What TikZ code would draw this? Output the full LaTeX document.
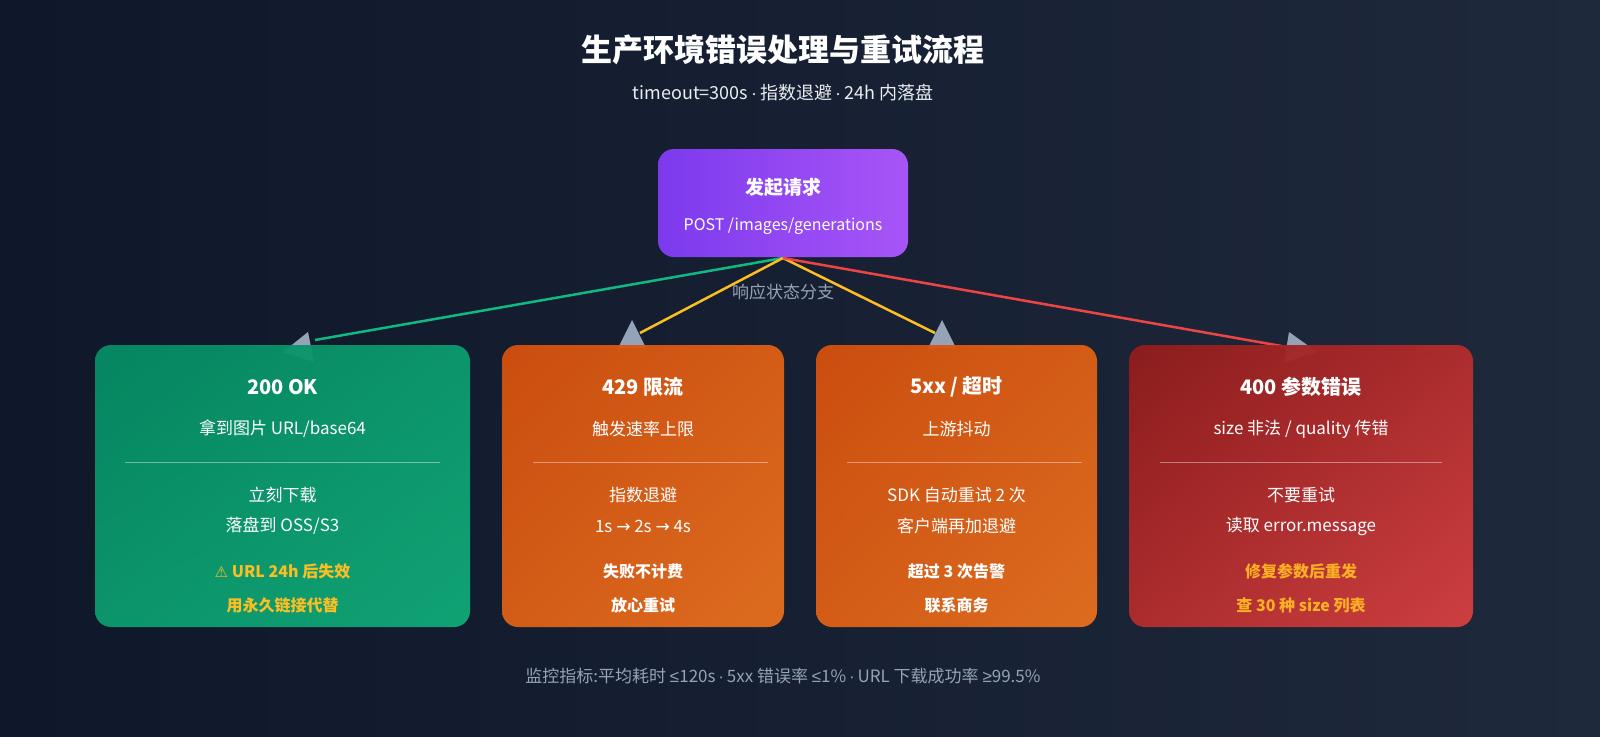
\documentclass[tikz,border=0pt]{standalone}
\usepackage{fontspec}
\usetikzlibrary{shadings}
\setmainfont{Noto Sans CJK SC}
\newfontfamily\symf{DejaVu Sans}
\newfontfamily\lsf{Liberation Sans}
\newcommand{\md}{{\lsf\,·\,}}
\definecolor{bgA}{HTML}{0F172A}\definecolor{bgB}{HTML}{1E293B}
\definecolor{ln}{HTML}{94A3B8}
\definecolor{triC}{HTML}{94A3B8}
\definecolor{pA}{HTML}{7C3AED}\definecolor{pB}{HTML}{A855F7}
\definecolor{cG}{HTML}{10B981}\definecolor{cY}{HTML}{FBBF24}\definecolor{cR}{HTML}{EF4444}
\definecolor{gA}{HTML}{058C64}\definecolor{gB}{HTML}{10AA78}\definecolor{gM}{HTML}{0C9B6E}
\definecolor{oA}{HTML}{D4500E}\definecolor{oB}{HTML}{E8701E}\definecolor{oM}{HTML}{DE6016}
\definecolor{rA}{HTML}{911C1C}\definecolor{rB}{HTML}{D74141}\definecolor{rM}{HTML}{B42D2D}
\definecolor{nY}{HTML}{FBBF24}\definecolor{nO}{HTML}{FBAF24}
\begin{document}
\begin{tikzpicture}[x=1pt,y=-1pt,
  box/.style={rounded corners=16pt,draw=none},
  ttl/.style={text=white,font=\bfseries\fontsize{20}{23}\selectfont,anchor=center},
  sub/.style={text=white,font=\fontsize{17}{20}\selectfont,anchor=center},
  note/.style={text=nY,font=\bfseries\fontsize{16}{19}\selectfont,anchor=center},
  wnote/.style={text=white,font=\bfseries\fontsize{16}{19}\selectfont,anchor=center},
  tri/.style={fill=triC,draw=none},
  div/.style={draw=white,opacity=0.4,line width=1pt}]
\useasboundingbox (0,0) rectangle (1600,736);
\shade[left color=bgA,right color=bgB] (0,0) rectangle (1600,736);
% title
\node[text=white,font=\bfseries\fontsize{31}{35}\selectfont] (title) at (783,50) {生产环境错误处理与重试流程};
\node[text=white!80!ln,font=\fontsize{18}{22}\selectfont] (subt) at (783,93) {timeout=300s\md 指数退避\md 24h 内落盘};
% top box
\shade[box,left color=pA,right color=pB] (658,149) rectangle (908,257);
\coordinate (src) at (783,258);
\node[ttl,font=\bfseries\fontsize{19}{22}\selectfont] (req) at (783,187) {发起请求};
\node[sub,font=\fontsize{16}{19}\selectfont] (reqs) at (783,226) {POST /images/generations};
% connectors
\coordinate (e1) at (315,340);\coordinate (e2) at (640,333);
\coordinate (e3) at (935,333);\coordinate (e4) at (1287,347);
\draw[line width=2.5pt,cG] (src) -- (e1);
\draw[line width=2.5pt,cY] (src) -- (e2);
\draw[line width=2.5pt,cY] (src) -- (e3);
\draw[line width=2.5pt,cR] (src) -- (e4);
\node[text=ln,font=\fontsize{17}{20}\selectfont] (lab) at (783,292) {响应状态分支};
\fill[tri] (308,332) -- (283,352) -- (314,362) -- cycle;
\fill[tri] (632,320) -- (618,348) -- (646,348) -- cycle;
\fill[tri] (942,320) -- (928,348) -- (956,348) -- cycle;
\fill[tri] (1289,332) -- (1317,352) -- (1284,363) -- cycle;
% boxes
\shade[box,opacity=0.95,upper left=gA,lower right=gB,upper right=gM,lower left=gM] (95,345) rectangle (470,627);
\shade[box,opacity=0.95,upper left=oA,lower right=oB,upper right=oM,lower left=oM] (502,345) rectangle (784,627);
\shade[box,opacity=0.95,upper left=oA,lower right=oB,upper right=oM,lower left=oM] (816,345) rectangle (1097,627);
\shade[box,opacity=0.95,upper left=rA,lower right=rB,upper right=rM,lower left=rM] (1129,345) rectangle (1473,627);
% box 1
\node[ttl] (b1t) at (282.5,387) {200 OK};
\node[sub] (b1s) at (282.5,429) {拿到图片 URL/base64};
\draw[div] (125,462) -- (440,462);
\node[sub] (b1a) at (282.5,495) {立刻下载};
\node[sub] (b1b) at (282.5,526) {落盘到 OSS/S3};
\node[note] (b1c) at (282.5,571) {{\symf\fontsize{15}{17}\selectfont ⚠} URL 24h 后失效};
\node[note] (b1d) at (282.5,605) {用永久链接代替};
% box 2
\node[ttl] (b2t) at (643,387) {429 限流};
\node[sub] (b2s) at (643,429) {触发速率上限};
\draw[div] (533,462) -- (768,462);
\node[sub] (b2a) at (643,495) {指数退避};
\node[sub] (b2b) at (643,526) {1s {\symf →} 2s {\symf →} 4s};
\node[wnote] (b2c) at (643,571) {失败不计费};
\node[wnote] (b2d) at (643,605) {放心重试};
% box 3
\node[ttl] (b3t) at (956.5,387) {5xx / 超时};
\node[sub] (b3s) at (956.5,429) {上游抖动};
\draw[div] (847,462) -- (1082,462);
\node[sub] (b3a) at (956.5,495) {SDK 自动重试 2 次};
\node[sub] (b3b) at (956.5,526) {客户端再加退避};
\node[wnote] (b3c) at (956.5,571) {超过 3 次告警};
\node[wnote] (b3d) at (956.5,605) {联系商务};
% box 4
\node[ttl] (b4t) at (1301,387) {400 参数错误};
\node[sub] (b4s) at (1301,429) {size 非法 / quality 传错};
\draw[div] (1160,462) -- (1442,462);
\node[sub] (b4a) at (1301,495) {不要重试};
\node[sub] (b4b) at (1301,526) {读取 error.message};
\node[note,text=nO] (b4c) at (1301,571) {修复参数后重发};
\node[note,text=nO] (b4d) at (1301,605) {查 30 种 size 列表};
% footer
\node[text=ln,font=\fontsize{17}{20}\selectfont] (foot) at (783,676) {监控指标:平均耗时 {\lsf ≤}120s\md 5xx 错误率 {\lsf ≤}1\%\md URL 下载成功率 {\lsf ≥}99.5\%};
\end{tikzpicture}
\end{document}
